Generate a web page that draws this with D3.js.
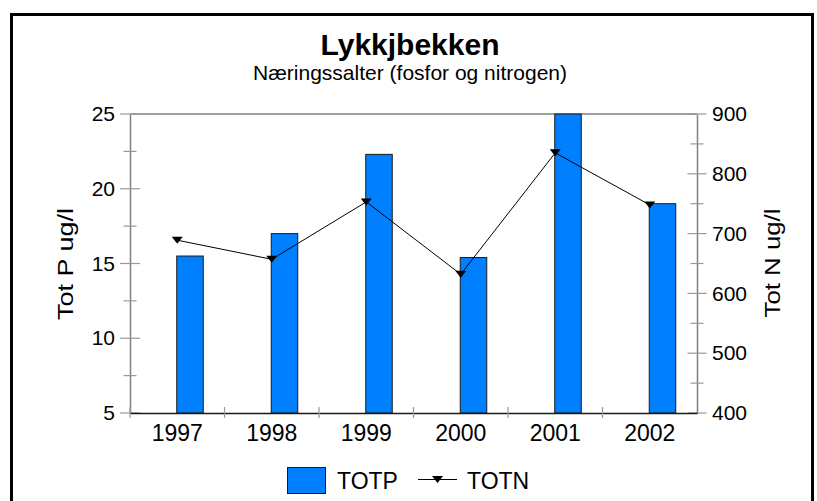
<!DOCTYPE html>
<html>
<head>
<meta charset="utf-8">
<script src="https://cdn.jsdelivr.net/npm/d3@7"></script>
<style>
  html, body { margin: 0; padding: 0; background: #fff; }
  svg text { font-family: "Liberation Sans", Arial, sans-serif; fill: #000; }
</style>
</head>
<body>
<svg id="chart" width="817" height="501"></svg>
<script>
const years = ["1997", "1998", "1999", "2000", "2001", "2002"];
const totp = [15.5, 17.0, 22.3, 15.4, 25.0, 19.0];
const totn = [689, 657, 753, 632, 835, 748];
const leftTicks = [5, 10, 15, 20, 25];
const rightTicks = [400, 500, 600, 700, 800, 900];
const title = "Lykkjbekken";
const subtitle = "Næringssalter (fosfor og nitrogen)";
const leftTitle = "Tot P ug/l";
const rightTitle = "Tot N ug/l";
const seriesNames = ["TOTP", "TOTN"];

const svg = d3.select("#chart");
const m = { left: 130, right: 697, top: 114, bottom: 413 };

// frame
svg.append("rect").attr("x", 11.5).attr("y", 14.5).attr("width", 801).attr("height", 500)
  .attr("fill", "none").attr("stroke", "#000").attr("stroke-width", 3);

const x = d3.scaleBand().domain(years).range([m.left, m.right]).padding(0);
const yL = d3.scaleLinear().domain([5, 25]).range([m.bottom, m.top]);
const yR = d3.scaleLinear().domain([400, 900]).range([m.bottom, m.top]);

// titles
svg.append("text").attr("x", 410).attr("y", 55).attr("text-anchor", "middle")
  .attr("font-size", 30).attr("font-weight", "bold").text(title);
svg.append("text").attr("x", 410).attr("y", 80).attr("text-anchor", "middle")
  .attr("font-size", 21).text(subtitle);

const gray = "#808080";
svg.append("line").attr("x1", m.left).attr("x2", m.right).attr("y1", m.top).attr("y2", m.top)
  .attr("stroke", gray).attr("stroke-width", 1.5);

// left axis
const axL = d3.axisLeft(yL).tickValues(leftTicks).tickSize(0).tickPadding(15);
const gL = svg.append("g").attr("transform", `translate(${m.left},0)`).call(axL);
gL.select(".domain").attr("stroke", gray).attr("stroke-width", 1.5);
gL.selectAll("text").attr("font-size", 21).attr("font-family", "Liberation Sans, Arial, sans-serif").attr("fill", "#000");
leftTicks.forEach(v => {
  svg.append("line").attr("x1", m.left - 10).attr("x2", m.left + 10)
    .attr("y1", yL(v)).attr("y2", yL(v)).attr("stroke", "#999").attr("stroke-width", 1.2);
});
d3.range(7.5, 25, 5).forEach(v => {
  svg.append("line").attr("x1", m.left - 6.5).attr("x2", m.left + 6.5)
    .attr("y1", yL(v)).attr("y2", yL(v)).attr("stroke", "#999").attr("stroke-width", 1.2);
});

// right axis
const axR = d3.axisRight(yR).tickValues(rightTicks).tickSize(0).tickPadding(15);
const gR = svg.append("g").attr("transform", `translate(${m.right},0)`).call(axR);
gR.select(".domain").attr("stroke", gray).attr("stroke-width", 1.5);
gR.selectAll("text").attr("font-size", 21).attr("font-family", "Liberation Sans, Arial, sans-serif").attr("fill", "#000");
rightTicks.forEach(v => {
  svg.append("line").attr("x1", m.right - 9.5).attr("x2", m.right + 9.5)
    .attr("y1", yR(v)).attr("y2", yR(v)).attr("stroke", "#999").attr("stroke-width", 1.2);
});
d3.range(450, 900, 100).forEach(v => {
  svg.append("line").attr("x1", m.right - 6.5).attr("x2", m.right + 6.5)
    .attr("y1", yR(v)).attr("y2", yR(v)).attr("stroke", "#999").attr("stroke-width", 1.2);
});

// axis titles
svg.append("text").attr("transform", `translate(73,264) rotate(-90)`)
  .attr("text-anchor", "middle").attr("font-size", 22)
  .attr("textLength", 112).attr("lengthAdjust", "spacingAndGlyphs").text(leftTitle);
svg.append("text").attr("transform", `translate(780,263) rotate(-90)`)
  .attr("text-anchor", "middle").attr("font-size", 22)
  .attr("textLength", 109).attr("lengthAdjust", "spacingAndGlyphs").text(rightTitle);

// bars
const barW = 26.5;
svg.append("g").selectAll("rect").data(years).join("rect")
  .attr("x", d => x(d) + x.bandwidth() / 2 - 0.5)
  .attr("y", (d, i) => yL(totp[i]))
  .attr("width", barW)
  .attr("height", (d, i) => yL(5) - yL(totp[i]))
  .attr("fill", "#0080ff").attr("stroke", "#1a1a1a").attr("stroke-width", 1);

// bottom axis
const axB = d3.axisBottom(x).tickSize(0).tickPadding(12);
const gB = svg.append("g").attr("transform", `translate(0,${m.bottom})`).call(axB);
gB.select(".domain").attr("stroke", "#1a1a1a").attr("stroke-width", 1.5);
gB.selectAll("text").attr("font-size", 23).attr("font-family", "Liberation Sans, Arial, sans-serif").attr("fill", "#000");
years.forEach(d => {
  svg.append("line").attr("x1", x(d)).attr("x2", x(d)).attr("y1", m.bottom - 6).attr("y2", m.bottom + 5)
    .attr("stroke", "#999").attr("stroke-width", 1.2);
});

// line
const line = d3.line().x((d, i) => x(years[i]) + x.bandwidth() / 2).y(d => yR(d));
svg.append("path").datum(totn).attr("d", line).attr("fill", "none").attr("stroke", "#000").attr("stroke-width", 1);
svg.append("g").selectAll("path").data(totn).join("path")
  .attr("d", "M-5.5,-3.5L5.5,-3.5L0,3.5Z")
  .attr("transform", (d, i) => `translate(${x(years[i]) + x.bandwidth() / 2},${yR(d)})`)
  .attr("fill", "#000");

// legend
const lg = svg.append("g");
lg.append("rect").attr("x", 287.5).attr("y", 467.5).attr("width", 38).attr("height", 26)
  .attr("fill", "#0080ff").attr("stroke", "#1a1a1a").attr("stroke-width", 1);
lg.append("text").attr("x", 337).attr("y", 488.5).attr("font-size", 23).text(seriesNames[0]);
lg.append("line").attr("x1", 418).attr("x2", 457).attr("y1", 479.5).attr("y2", 479.5)
  .attr("stroke", "#000").attr("stroke-width", 1);
lg.append("path").attr("d", "M-5.5,-3.5L5.5,-3.5L0,3.5Z").attr("transform", "translate(437.5,479.5)").attr("fill", "#000");
lg.append("text").attr("x", 467).attr("y", 488.5).attr("font-size", 23).text(seriesNames[1]);
</script>
</body>
</html>
